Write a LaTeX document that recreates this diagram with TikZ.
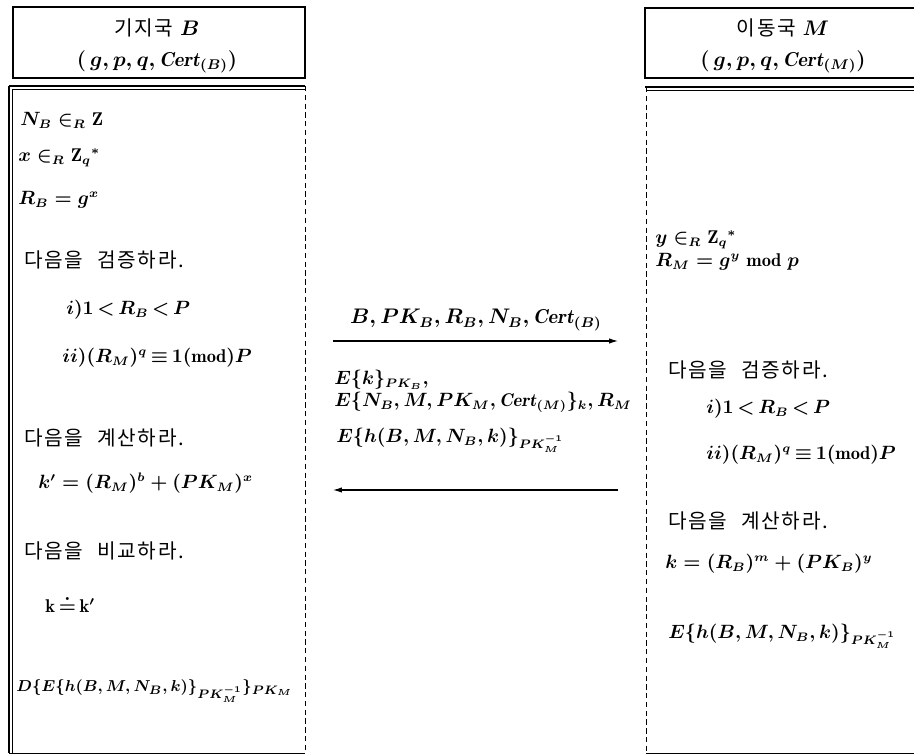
\documentclass[tikz,border=0pt]{standalone}
\usepackage{amsmath,amssymb}
\usepackage{fontspec}
\newfontfamily\kr[LetterSpace=8]{Noto Sans CJK KR}
\usetikzlibrary{arrows.meta}

\begin{document}
\begin{tikzpicture}[x=0.02cm, y=-0.02cm,
    txt/.style={anchor=west, inner sep=0pt, font=\boldmath\fontsize{10.5}{12}\selectfont},
    kor/.style={anchor=west, inner sep=0pt, font=\kr\fontsize{11.5}{13}\selectfont},
    head/.style={inner sep=0pt, font=\boldmath\fontsize{11.5}{13}\selectfont},
    frame/.style={line width=1.3pt},
    msg/.style={line width=0.6pt, -{Latex[length=5pt,width=3pt]}}]
    \useasboundingbox (0,0) rectangle (914,756);

    % Base station B
    \draw[frame] (13,7) rectangle (305,78);
    \node[head] (bname) at (157,28) {{\kr 기지국} $B$};
    \node[head] (bpar) at (157,62) {$(\,g, p, q, \mathit{Cert}_{(B)})$};

    \draw[thick] (9,86) -- (305,86);
    \draw (12,89) -- (305,89);
    \draw[line width=1.2pt] (9,86) -- (9,753);
    \draw (12,89) -- (12,753);
    \draw[densely dashed] (305,86) -- (305,753);
    \draw (9,753) -- (305,753);

    \node[txt] (nb) at (20,120) {$N_B \in_R \mathrm{Z}$};
    \node[txt] (xr) at (18,158) {$x \in_R \mathrm{Z}_q{}^{*}$};
    \node[txt] (rb) at (18,200) {$R_B = g^x$};
    \node[kor] (vb) at (24,260) {다음을\hspace{0.7em}검증하라.};
    \node[txt] (vb1) at (66,310) {$i)1\,{<}\,R_B\,{<}\,P$};
    \node[txt] (vb2) at (62,358) {$ii)(R_M)^q\,{\equiv}\,1(\mathrm{mod})P$};
    \node[kor] (cb) at (24,438) {다음을\hspace{0.7em}계산하라.};
    \node[txt] (kb) at (38,483) {$k' = (R_M)^b + (PK_M)^x$};
    \node[kor] (pb) at (24,551) {다음을\hspace{0.7em}비교하라.};
    \node[txt] (kk) at (45,604) {$\mathrm{k}\,{\doteq}\,\mathrm{k}'$};
    \node[txt, font=\boldmath\fontsize{9.5}{11}\selectfont] (db) at (16,691)
      {$D\{E\{h(B, M, N_B, k)\}_{PK_M^{-1}}\}_{PK_M}$};

    % Mobile station M
    \draw[frame] (645,8) rectangle (925,78);
    \node[head] (mname) at (783,28) {{\kr 이동국} $M$};
    \node[head] (mpar) at (783,62) {$(\,g, p, q, \mathit{Cert}_{(M)})$};

    \draw[thick] (645,87) -- (914,87);
    \draw (646,90) -- (914,90);
    \draw[densely dashed] (646,87) -- (646,753);
    \draw (646,753) -- (914,753);

    \node[txt] (ym) at (655,240) {$y \in_R \mathrm{Z}_q{}^{*}$};
    \node[txt] (rm) at (655,262) {$R_M = g^y \bmod p$};
    \node[kor] (vm) at (668,370) {다음을\hspace{0.7em}검증하라.};
    \node[txt] (vm1) at (706,409) {$i)1\,{<}\,R_B\,{<}\,P$};
    \node[txt] (vm2) at (706,455) {$ii)(R_M)^q\,{\equiv}\,1(\mathrm{mod})P$};
    \node[kor] (cm) at (668,521) {다음을\hspace{0.7em}계산하라.};
    \node[txt] (km) at (665,564) {$k = (R_B)^m + (PK_B)^y$};
    \node[txt] (hm) at (668,636) {$E\{h(B, M, N_B, k)\}_{PK_M^{-1}}$};

    % Messages
    \node[txt, anchor=center, font=\boldmath\fontsize{11.5}{13}\selectfont] (msg1) at (476,320)
      {$B, PK_B, R_B, N_B, \mathit{Cert}_{(B)}$};
    \coordinate (a1s) at (333,341);
    \coordinate (a1e) at (618,341);
    \draw[msg] (a1s) -- (a1e);

    \node[txt] (msg2) at (334,380) {$E\{k\}_{PK_B},$};
    \node[txt] (msg3) at (334,402) {$E\{N_B, M, PK_M, \mathit{Cert}_{(M)}\}_k, R_M$};
    \node[txt] (msg4) at (336,440) {$E\{h(B, M, N_B, k)\}_{PK_M^{-1}}$};
    \coordinate (a2s) at (618,490);
    \coordinate (a2e) at (333,490);
    \draw[msg] (a2s) -- (a2e);
\end{tikzpicture}
\end{document}
